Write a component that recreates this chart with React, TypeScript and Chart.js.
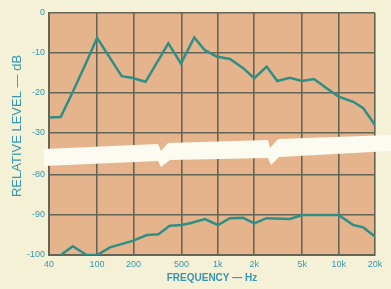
import React, { useEffect, useRef } from 'react';
import { Chart, registerables } from 'chart.js';

Chart.register(...registerables);

// Upper curve (relative level, dB) – top section of the split axis
const upperFreq = [40, 50, 63, 83, 100, 160, 193, 252, 389, 495, 638, 780, 977, 1260, 1623, 2000, 2536, 3105, 3950, 4945, 6254, 7963, 10000, 13220, 16000, 20000];
const upperLevel = [-26.1, -26, -19.7, -11.8, -6.2, -15.8, -16.2, -17.2, -7.6, -12.6, -6.1, -9.3, -10.9, -11.5, -13.8, -16.3, -13.4, -17, -16.2, -17, -16.5, -18.8, -20.9, -22.2, -23.8, -28];

// Lower curve – bottom section of the split axis
const lowerFreq = [50, 63, 82, 100, 128, 200, 258, 322, 400, 500, 600, 780, 1000, 1260, 1620, 2000, 2536, 3950, 5000, 10000, 13220, 16000, 20000];
const lowerLevel = [-100, -97.8, -100, -100, -98.1, -96.4, -95, -94.8, -92.7, -92.5, -92, -91, -92.5, -90.8, -90.7, -92.1, -90.8, -91, -90, -90, -92.5, -93.1, -95.4];

// Axis ticks
const freqTicks = [40, 100, 200, 500, 1000, 2000, 5000, 10000, 20000];
const freqTickLabels = ['40', '100', '200', '500', '1k', '2k', '5k', '10k', '20k'];
const upperLevelTicks = [0, -10, -20, -30];
const lowerLevelTicks = [-80, -90, -100];

const BREAK_SHIFT = 39.5; // lower section drawn shifted up past the break
const Y_MIN = -100 + BREAK_SHIFT;

const CREAM = '#f5f1d6';
const TAN = '#e5b48c';
const GRID = '#636557';
const CURVE = '#2f8f86';
const TEXT = '#3597b2';
const BAND = '#fcfbf1';

const toAxis = (v: number) => (v <= -60 ? v + BREAK_SHIFT : v);
const fromAxis = (v: number) => (v < -35 ? Math.round(v - BREAK_SHIFT) : Math.round(v));

export default function App() {
  const ref = useRef<HTMLCanvasElement | null>(null);

  useEffect(() => {
    if (!ref.current) return;

    const plotBg = {
      id: 'plotBg',
      beforeDraw(chart: any) {
        const { ctx, chartArea: a } = chart;
        ctx.save();
        ctx.fillStyle = TAN;
        ctx.fillRect(a.left, a.top, a.right - a.left, a.bottom - a.top);
        ctx.restore();
      },
    };

    const breakBand = {
      id: 'breakBand',
      afterDatasetsDraw(chart: any) {
        const { ctx, chartArea: a } = chart;
        const L = a.left - 5;
        const R = chart.width;
        const t = a.top;
        const pts: [number, number][] = [
          [L, t + 136],
          [a.left + 109, t + 131],
          [a.left + 112, t + 138],
          [a.left + 119, t + 130],
          [a.left + 219, t + 127],
          [a.left + 221, t + 135],
          [a.left + 229, t + 126],
          [R, t + 122],
          [R, t + 138],
          [a.left + 230, t + 144],
          [a.left + 222, t + 152],
          [a.left + 219, t + 145],
          [a.left + 121, t + 147],
          [a.left + 112, t + 154],
          [a.left + 109, t + 148],
          [L, t + 153],
        ];
        ctx.save();
        ctx.fillStyle = BAND;
        ctx.beginPath();
        pts.forEach(([x, y], i) => (i ? ctx.lineTo(x, y) : ctx.moveTo(x, y)));
        ctx.closePath();
        ctx.fill();
        ctx.restore();
      },
    };

    const titles = {
      id: 'titles',
      afterDraw(chart: any) {
        const { ctx, chartArea: a } = chart;
        ctx.save();
        ctx.fillStyle = TEXT;
        ctx.textAlign = 'center';
        ctx.textBaseline = 'middle';
        ctx.font = 'bold 10px "Liberation Sans", Arial, sans-serif';
        ctx.fillText('FREQUENCY — Hz', (a.left + a.right) / 2, 278);
        ctx.font = '13px "Liberation Sans", Arial, sans-serif';
        ctx.translate(17, 126);
        ctx.rotate(-Math.PI / 2);
        ctx.fillText('RELATIVE LEVEL — dB', 0, 0);
        ctx.restore();
      },
    };

    const chart = new Chart(ref.current, {
      type: 'line',
      data: {
        datasets: [
          {
            data: upperFreq.map((f, i) => ({ x: f, y: toAxis(upperLevel[i]) })),
            borderColor: CURVE,
            borderWidth: 2.5,
            pointRadius: 0,
            tension: 0,
            fill: false,
          },
          {
            data: lowerFreq.map((f, i) => ({ x: f, y: toAxis(lowerLevel[i]) })),
            borderColor: CURVE,
            borderWidth: 2.5,
            pointRadius: 0,
            tension: 0,
            fill: false,
          },
        ],
      },
      options: {
        responsive: false,
        animation: false,
        layout: { padding: { top: 13, right: 16, left: 0, bottom: 0 } },
        plugins: { legend: { display: false }, tooltip: { enabled: false } },
        scales: {
          x: {
            type: 'logarithmic',
            min: 40,
            max: 20000,
            afterBuildTicks: (s: any) => {
              s.ticks = freqTicks.map((v) => ({ value: v }));
            },
            afterFit: (s: any) => {
              s.height = 34;
            },
            grid: { color: GRID, lineWidth: 1.6, drawTicks: false },
            border: { color: GRID, width: 2 },
            ticks: {
              autoSkip: false,
              maxRotation: 0,
              padding: 4,
              color: TEXT,
              font: { size: 9, family: '"Liberation Sans", Arial, sans-serif' },
              callback: (v: any) => {
                const i = freqTicks.indexOf(Number(v));
                return i >= 0 ? freqTickLabels[i] : '';
              },
            },
          },
          y: {
            type: 'linear',
            min: Y_MIN,
            max: 0,
            afterBuildTicks: (s: any) => {
              s.ticks = [...upperLevelTicks, ...lowerLevelTicks].map((v) => ({ value: toAxis(v) }));
            },
            afterFit: (s: any) => {
              s.width = 49;
            },
            grid: { color: GRID, lineWidth: 1.6, drawTicks: false },
            border: { color: GRID, width: 2 },
            ticks: {
              autoSkip: false,
              padding: 4,
              color: TEXT,
              font: { size: 9, family: '"Liberation Sans", Arial, sans-serif' },
              callback: (v: any) => String(fromAxis(Number(v))),
            },
          },
        },
      },
      plugins: [plotBg, breakBand, titles],
    });

    return () => chart.destroy();
  }, []);

  return (
    <div style={{ position: 'fixed', left: 0, top: 0, width: 391, height: 289, background: CREAM }}>
      <canvas ref={ref} width={391} height={289} style={{ display: 'block' }} />
    </div>
  );
}
